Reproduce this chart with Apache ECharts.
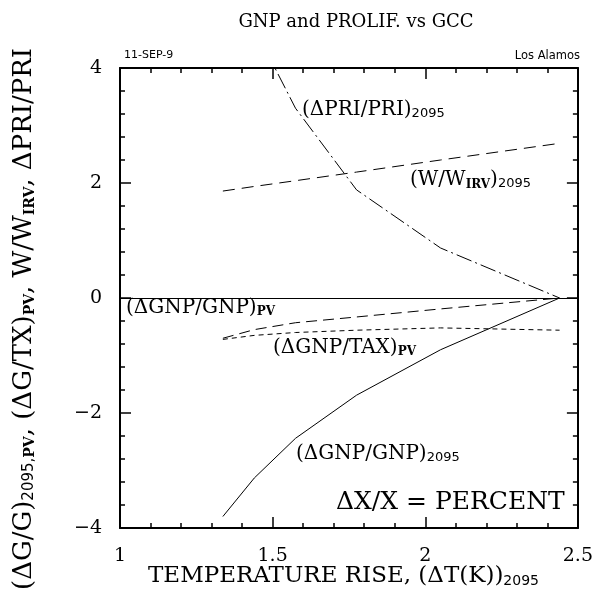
<!DOCTYPE html>
<html>
<head>
    <meta charset="utf-8" />
    <title>GNP and PROLIF. vs GCC</title>
    <script src="https://cdn.jsdelivr.net/npm/echarts@6/dist/echarts.min.js"></script>
    <style>
        html, body { margin: 0; padding: 0; background: #fff; }
    </style>
</head>
<body>
    <div id="main" style="width: 596px;height:611px;"></div>
    <script type="text/javascript">
        // temperature rise (K) in 2095 for each case
        var tempRise = [1.337, 1.44, 1.575, 1.775, 2.05, 2.44];
        var gnp2095 = [-3.8, -3.13, -2.44, -1.69, -0.9, 0];
        var gnpPV = [-0.70, -0.55, -0.43, -0.33, -0.19, 0];
        var taxPV = [-0.72, -0.65, -0.60, -0.56, -0.52, -0.56];
        var wIrv = [1.86, 1.94, 2.04, 2.19, 2.40, 2.69];
        var pri2095 = [null, 4.7, 3.3, 1.88, 0.87, 0];
        var xTicks = [1, 1.5, 2, 2.5];
        var yTicks = [-4, -2, 0, 2, 4];

        var SERIF = '"DejaVu Serif", serif';
        var SANS = '"DejaVu Sans", sans-serif';

        function pairs(ys) {
            return tempRise.map(function (x, i) { return [x, ys[i]]; });
        }

        // rich text styles: m = main, s = sans subscript, b = bold serif subscript
        function richStyles(main, sub) {
            sub = sub || 13;
            return {
                m: { fontFamily: SERIF, fontSize: main, color: '#000' },
                s: { fontFamily: SANS, fontSize: sub, color: '#000', verticalAlign: 'bottom', padding: [Math.round(main * 0.4), 0, 0, 0] },
                b: { fontFamily: SERIF, fontSize: sub - 1, fontWeight: 'bold', color: '#000', verticalAlign: 'bottom', padding: [Math.round(main * 0.4), 0, 0, 0] }
            };
        }

        function note(x, y, text, size) {
            return {
                type: 'text', left: x, top: y,
                style: { text: text, rich: richStyles(size || 20), fill: '#000' }
            };
        }

        var chart = echarts.init(document.getElementById('main'));

        function axisBase(pos, showLabel) {
            return {
                type: 'value', position: pos,
                axisLine: { show: true, onZero: false, lineStyle: { color: '#000', width: 2 } },
                axisTick: { show: true, inside: true, length: 11, lineStyle: { color: '#000', width: 1.5 } },
                minorTick: { show: true, splitNumber: 5, length: 5, lineStyle: { color: '#000', width: 1.5 } },
                splitLine: { show: false },
                axisLabel: { show: showLabel, fontFamily: SERIF, fontSize: 19, color: '#000' }
            };
        }

        var xBottom = axisBase('bottom', true);
        xBottom.min = xTicks[0]; xBottom.max = xTicks[xTicks.length - 1]; xBottom.interval = 0.5;
        xBottom.axisLabel.margin = 19;
        var xTop = axisBase('top', false);
        xTop.min = xBottom.min; xTop.max = xBottom.max; xTop.interval = 0.5;

        var yLeft = axisBase('left', true);
        yLeft.min = yTicks[0]; yLeft.max = yTicks[yTicks.length - 1]; yLeft.interval = 2;
        yLeft.axisLabel.margin = 18;
        yLeft.axisLabel.formatter = function (v) { return String(v).replace('-', '\u2212'); };
        var yRight = axisBase('right', false);
        yRight.min = yLeft.min; yRight.max = yLeft.max; yRight.interval = 2;

        function line(name, ys, dash) {
            return {
                name: name, type: 'line', data: pairs(ys), showSymbol: false,
                connectNulls: false, clip: true, silent: true,
                lineStyle: { color: '#000', width: 1, type: dash }
            };
        }

        var series = [
            line('gnp2095', gnp2095, 'solid'),
            line('gnpPV', gnpPV, [11, 6]),
            line('taxPV', taxPV, [5, 4]),
            line('wIrv', wIrv, [12, 7]),
            line('pri2095', pri2095, [16, 4, 2, 4])
        ];
        series[0].markLine = {
            silent: true, symbol: ['none', 'none'],
            label: { show: false },
            lineStyle: { color: '#000', width: 1, type: 'solid' },
            data: [{ yAxis: 0 }]
        };

        var option = {
            animation: false,
            title: {
                text: 'GNP and PROLIF. vs GCC', left: 351, top: 8, textAlign: 'center',
                textStyle: { fontFamily: SERIF, fontSize: 18, fontWeight: 'normal', color: '#000' }
            },
            grid: { left: 120, right: 17, top: 68, bottom: 83 },
            xAxis: [xBottom, xTop],
            yAxis: [yLeft, yRight],
            series: series,
            graphic: [
                { type: 'text', left: 124, top: 50, style: { text: '11-SEP-9', font: '11px ' + SANS, fill: '#000' } },
                { type: 'text', right: 16, top: 50, style: { text: 'Los Alamos', font: '11.5px ' + SANS, fill: '#000' } },
                note(302, 100, '{m|(\u0394PRI/PRI)}{s|2095}'),
                note(410, 170, '{m|(W/W}{b|IRV}{m|)}{s|2095}'),
                note(126, 298, '{m|(\u0394GNP/GNP)}{b|PV}'),
                note(273, 338, '{m|(\u0394GNP/TAX)}{b|PV}'),
                note(296, 444, '{m|(\u0394GNP/GNP)}{s|2095}'),
                note(336, 490, '{m|\u0394X/X = PERCENT}', 25),
                {
                    type: 'text', left: 148, top: 565,
                    style: { text: '{m|TEMPERATURE RISE, (\u0394T(K))}{s|2095}', rich: richStyles(23, 14) }
                },
                {
                    type: 'text', x: 11, y: 590, rotation: Math.PI / 2,
                    style: {
                        text: '{m|(\u0394G/G)}{s|2095,}{b|PV}{m|, (\u0394G/TX)}{b|PV}{m|, W/W}{b|IRV}{m|, \u0394PRI/PRI}',
                        rich: richStyles(26, 15)
                    }
                }
            ]
        };

        chart.setOption(option);
    </script>
</body>
</html>
